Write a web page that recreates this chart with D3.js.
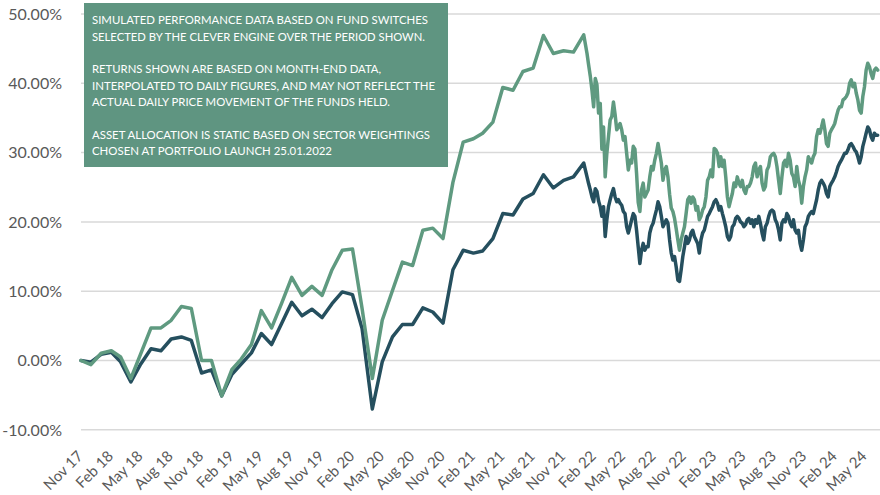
<!DOCTYPE html>
<html>
<head>
<meta charset="utf-8">
<script src="https://cdn.jsdelivr.net/npm/d3@7"></script>
<style>
  html, body { margin: 0; padding: 0; background: #ffffff; }
  svg { display: block; }
</style>
</head>
<body>
<svg id="chart" width="880" height="495"></svg>
<script>
// ---------- DATA ----------
// Month-end values (Oct 2017 .. Dec 2021), % return
const monthlyStart = "2017-10-31";
const greenMonthly = [0.0,-0.6,1.05,1.4,0.5,-2.6,1.0,4.7,4.7,5.8,7.8,7.5,0.0,0.0,-5.1,-1.3,0.2,2.3,7.2,4.7,8.2,12.0,9.4,10.7,9.4,13.1,15.9,16.1,7.5,-2.6,5.8,10.1,14.2,13.7,18.8,19.1,17.6,25.7,31.5,32.0,32.8,34.4,39.4,39.0,41.7,42.2,46.9,44.3,44.7,44.5,47.0];
const darkMonthly  = [0.0,-0.25,0.9,1.2,-0.2,-3.1,-0.5,1.7,1.4,3.1,3.4,2.9,-1.8,-1.35,-5.1,-2.0,-0.5,1.1,3.9,2.3,5.3,8.4,6.45,7.4,6.2,8.2,9.9,9.5,4.6,-7.0,-0.2,3.4,5.2,5.2,7.6,7.0,5.4,13.1,15.9,15.5,15.8,17.6,21.2,21.0,23.3,24.1,26.8,24.9,26.0,26.5,28.5];

// Daily-interpolated period, sampled every 5 days from 10 Jan 2022
const dailyStart = "2022-01-10";
const dailyStepDays = 5;
const greenDaily = [
  44.3,42.6,41.0,39.0,36.6,40.7,39.8,35.7,37.1,30.5,33.7,26.5,29.9,32.3,34.7,35.2,37.3,35.5,33.3,33.7,34.2,33.3,31.8,32.3,29.9,27.5,28.9,28.5,30.9,30.5,27.0,22.8,21.5,24.6,25.6,23.6,24.1,24.6,26.5,28.0,27.5,28.9,29.9,31.3,29.9,28.5,26.0,27.5,28.0,26.5,24.0,22.0,21.5,
  20.5,19.0,17.4,15.9,17.4,18.4,19.3,21.2,23.2,23.6,22.7,23.6,23.2,21.7,22.2,20.3,20.8,21.7,22.2,23.6,26.0,26.5,27.5,26.5,30.6,30.4,29.9,28.0,29.4,28.0,28.9,26.5,23.6,22.2,23.2,24.1,25.6,25.1,26.5,25.6,25.1,26.0,24.6,24.1,25.1,25.1,25.6,26.5,28.0,28.5,26.5,27.5,28.0,25.6,24.6,25.1,27.5,28.0,29.4,29.7,
  29.9,29.4,28.0,26.0,24.1,26.5,28.5,28.9,28.0,29.9,28.9,27.0,26.5,25.1,28.0,26.0,25.1,22.7,25.1,26.5,27.5,29.4,28.9,28.5,29.4,29.9,32.3,33.3,32.8,33.7,34.7,33.3,31.3,30.9,32.8,33.3,33.7,34.2,35.2,36.1,36.6,36.6,37.6,37.8,38.1,38.6,40.0,40.5,39.5,40.0,38.6,37.6,36.1,35.7,38.1,39.5,41.9,42.9,42.4,41.4,40.7,41.9,42.2,41.9
];
const darkDaily = [
  26.5,25.5,24.6,23.6,22.9,24.8,24.4,23.0,22.2,20.8,22.2,17.9,20.3,22.2,23.2,24.1,24.8,23.6,22.9,23.2,22.7,22.4,21.5,21.2,19.3,18.4,19.3,20.3,21.2,20.8,18.8,16.4,14.0,15.9,16.9,15.9,16.4,16.4,18.4,19.3,19.8,20.8,21.7,22.9,22.2,20.8,19.3,19.8,20.3,19.8,17.4,15.5,14.5,
  15.0,13.5,11.6,11.4,13.1,15.0,16.4,17.9,16.9,17.4,18.4,18.8,17.9,17.4,16.9,15.5,17.4,18.4,18.8,19.8,20.8,21.2,21.7,22.2,22.9,23.2,22.7,21.7,22.2,21.2,20.3,19.3,17.9,17.4,17.9,19.3,19.6,20.5,20.8,20.5,20.0,19.8,19.3,19.6,20.3,20.5,19.8,20.3,19.3,20.3,19.8,20.8,19.8,18.4,17.4,19.3,19.8,20.8,21.5,21.7,
  21.5,20.3,19.8,18.8,17.4,19.8,20.3,20.0,21.2,20.8,19.8,19.3,20.3,18.8,18.4,18.8,16.9,15.9,17.4,19.3,19.8,20.8,21.2,21.5,21.2,22.2,23.2,24.6,25.6,26.0,25.6,25.1,24.1,23.6,25.1,25.6,26.0,26.5,27.2,28.0,28.5,28.9,29.4,29.9,29.9,30.4,31.1,31.3,30.9,30.4,30.1,29.4,28.5,29.4,30.9,31.8,32.8,33.7,33.3,32.3,31.8,32.8,32.5,32.5
];

const yTickValues = [-10, 0, 10, 20, 30, 40, 50];
const xTickStart = "2017-11-01";
const xTickEnd = "2024-05-01";
const xTickEveryMonths = 3;

const noteLines = [
  "SIMULATED PERFORMANCE DATA BASED ON FUND SWITCHES",
  "SELECTED BY THE CLEVER ENGINE OVER THE PERIOD SHOWN.",
  "",
  "RETURNS SHOWN ARE BASED ON MONTH-END DATA,",
  "INTERPOLATED TO DAILY FIGURES, AND MAY NOT REFLECT THE",
  "ACTUAL DAILY PRICE MOVEMENT OF THE FUNDS HELD.",
  "",
  "ASSET ALLOCATION IS STATIC BASED ON SECTOR WEIGHTINGS",
  "CHOSEN AT PORTFOLIO LAUNCH 25.01.2022"
];
const noteLineWidths = [336, 333, 0, 289, 343, 298, 0, 338, 240];

// ---------- BUILD SERIES ----------
const parse = d3.utcParse("%Y-%m-%d");
const mStart = parse(monthlyStart);
function monthEnd(k) {
  const firstNext = d3.utcMonth.offset(d3.utcDay.offset(mStart, 1), k);
  return d3.utcDay.offset(firstNext, -1);
}
const dStart = parse(dailyStart);
function build(monthly, daily) {
  const pts = monthly.map((v, k) => ({ date: monthEnd(k), value: v }));
  daily.forEach((v, i) => pts.push({ date: d3.utcDay.offset(dStart, i * dailyStepDays), value: v }));
  return pts;
}
const greenSeries = build(greenMonthly, greenDaily);
const darkSeries = build(darkMonthly, darkDaily);

// ---------- LAYOUT ----------
const svg = d3.select("#chart");
const plotLeft = 81, plotRight = 880;
const plotTop = 14, plotBottom = 429.8;

const x = d3.scaleUtc()
  .domain([parse("2017-10-31"), parse("2024-06-15")])
  .range([plotLeft, plotRight]);
const y = d3.scaleLinear().domain([-10, 50]).range([plotBottom, plotTop]);

const labelColor = "#595959";
const font = "Lato, 'Open Sans', sans-serif";

// gridlines
svg.append("g").selectAll("line").data(yTickValues).join("line")
  .attr("x1", plotLeft).attr("x2", plotRight)
  .attr("y1", d => y(d)).attr("y2", d => y(d))
  .attr("stroke", "#d9d9d9").attr("stroke-width", 1.5);

// y labels
svg.append("g").selectAll("text").data(yTickValues).join("text")
  .attr("x", 62).attr("y", d => y(d))
  .attr("dy", "0.36em")
  .attr("text-anchor", "end")
  .attr("font-family", font).attr("font-size", 16)
  .attr("fill", labelColor)
  .text(d => d.toFixed(2) + "%");

// x labels
const xTicks = d3.utcMonth.range(parse(xTickStart), d3.utcDay.offset(parse(xTickEnd), 1), xTickEveryMonths);
const fmt = d3.utcFormat("%b %y");
svg.append("g").selectAll("text").data(xTicks).join("text")
  .attr("transform", d => `translate(${x(d) + 2.5},457) rotate(-45)`)
  .attr("text-anchor", "end")
  .attr("font-family", font).attr("font-size", 15)
  .attr("fill", labelColor)
  .text(d => fmt(d));

// lines
const line = d3.line().x(d => x(d.date)).y(d => y(d.value));
svg.append("path").datum(darkSeries)
  .attr("d", line).attr("fill", "none")
  .attr("stroke", "#254f5e").attr("stroke-width", 3.5)
  .attr("stroke-linejoin", "round").attr("stroke-linecap", "round");
svg.append("path").datum(greenSeries)
  .attr("d", line).attr("fill", "none")
  .attr("stroke", "#5f9a80").attr("stroke-width", 3.5)
  .attr("stroke-linejoin", "round").attr("stroke-linecap", "round");

// note box
const note = svg.append("g");
note.append("rect")
  .attr("x", 84).attr("y", 3).attr("width", 364).attr("height", 164)
  .attr("fill", "#5f9581");
noteLines.forEach((t, i) => {
  if (!t) return;
  note.append("text")
    .attr("x", 92).attr("y", 24.3 + i * 16.35)
    .attr("font-family", font).attr("font-size", 11.8)
    .attr("fill", "#ffffff")
    .attr("textLength", noteLineWidths[i])
    .attr("lengthAdjust", "spacingAndGlyphs")
    .text(t);
});
</script>
</body>
</html>
